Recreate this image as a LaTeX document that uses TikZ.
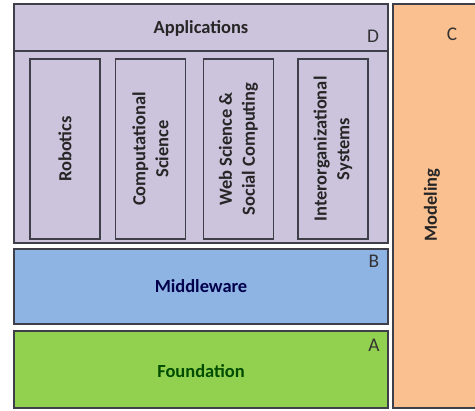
\documentclass[tikz,border=0pt]{standalone}
\usepackage{fontspec}
\setmainfont{Carlito}
\usetikzlibrary{positioning}
\definecolor{appcol}{HTML}{CCC3DC}
\definecolor{midcol}{HTML}{8EB4E3}
\definecolor{foundcol}{HTML}{92D050}
\definecolor{modcol}{HTML}{FAC090}
\definecolor{linecol}{HTML}{3F3F4A}
\tikzset{layer/.style={rectangle,draw=linecol,line width=0.9pt,minimum width=7.48cm,inner sep=0pt}}
\tikzset{label/.style={font=\fontsize{10.5}{12}\selectfont\bfseries,text=black!85}}
\tikzset{area/.style={layer,fill=appcol,minimum width=3.6cm,minimum height=1.4cm,rotate=90,align=center,font=\fontsize{10.5}{13}\selectfont\bfseries,text=black!85}}
\tikzset{letter/.style={font=\fontsize{11}{12}\selectfont,text=black!80}}
\begin{document}
\begin{tikzpicture}[node distance=1cm,auto]
    \useasboundingbox (0,0) rectangle (9.5,8.2);

    % right column
    \node[layer,fill=modcol,minimum width=1.7cm,minimum height=8.08cm] (model) at (8.71,4.08) {};
    \node[label,rotate=90] (modeltxt) at (8.64,4.1) {Modeling};
    \node[letter] (c) at (9.04,7.52) {C};

    % layers
    \node[layer,fill=appcol,minimum height=4.78cm] (apps) at (4.02,5.73) {};
    \node[layer,fill=midcol,minimum height=1.5cm] (middle) at (4.02,2.47) {};
    \node[layer,fill=foundcol,minimum height=1.54cm] (found) at (4.02,0.81) {};

    \coordinate (split) at (0,7.18);
    \draw[linecol,line width=0.9pt] (apps.west |- split) -- (apps.east |- split);

    \node[label] (appstxt) at (4.02,7.64) {Applications};
    \node[label,text=black!70!blue] (midtxt) at (middle) {Middleware};
    \node[label,text=black!70!green] (foundtxt) at (4.02,0.78) {Foundation};

    \node[letter] (d) at (7.46,7.48) {D};
    \node[letter] (b) at (7.48,2.98) {B};
    \node[letter] (a) at (7.48,1.30) {A};

    % application areas
    \node[area] (robot) at (1.30,5.22) {Robotics};
    \node[area] (comp) at (3.01,5.22) {Computational\\Science};
    \node[area] (web) at (4.77,5.22) {Web Science \&\\Social Computing};
    \node[area] (inter) at (6.66,5.22) {Interorganizational\\Systems};
\end{tikzpicture}
\end{document}
